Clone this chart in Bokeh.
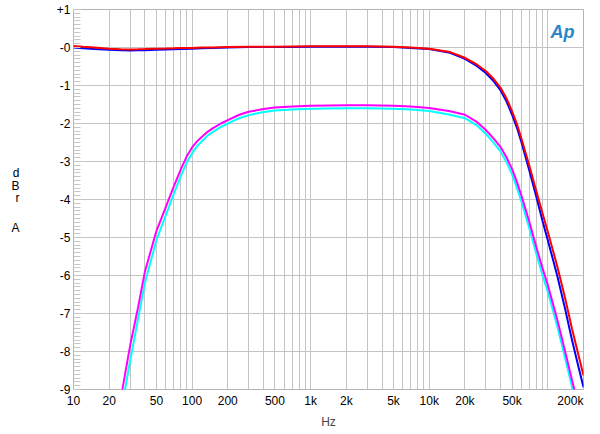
from bokeh.plotting import figure
from bokeh.models import Range1d, FixedTicker, Label, LinearAxis
from bokeh.embed import file_html
from bokeh.resources import INLINE

# ---- data ----
freq_a = [10, 12, 15, 20, 25, 30, 35, 40, 50, 60, 70, 80, 100, 120, 150, 200, 300, 500, 700, 1000,
          2000, 3000, 5000, 7000, 10000, 15000, 20000, 25000, 30000, 35000, 40000, 45000, 50000,
          55000, 60000, 70000, 80000, 90000, 100000, 120000, 140000, 160000, 180000, 200000]
red = [0.04, 0.02, 0.0, -0.03, -0.045, -0.05, -0.045, -0.04, -0.03, -0.025, -0.02, -0.015, -0.01,
       0.0, 0.0, 0.01, 0.02, 0.02, 0.025, 0.03, 0.03, 0.03, 0.02, 0.0, -0.03, -0.12, -0.27, -0.44,
       -0.62, -0.83, -1.06, -1.35, -1.68, -2.02, -2.4, -3.12, -3.78, -4.35, -4.85, -5.75, -6.6,
       -7.4, -8.05, -8.63]
blue = [0.0, -0.02, -0.04, -0.06, -0.075, -0.08, -0.075, -0.07, -0.06, -0.05, -0.045, -0.04, -0.03,
        -0.02, -0.01, 0.0, 0.01, 0.01, 0.015, 0.02, 0.02, 0.02, 0.01, -0.01, -0.04, -0.14, -0.3,
        -0.48, -0.67, -0.89, -1.13, -1.43, -1.77, -2.12, -2.5, -3.25, -3.93, -4.55, -5.07, -6.0,
        -6.88, -7.7, -8.36, -8.94]

freq_b = [24, 26, 30, 35, 40, 50, 60, 70, 80, 90, 100, 110, 120, 135, 150, 175, 200, 250, 300, 400,
          500, 700, 1000, 2000, 3000, 5000, 7000, 10000, 15000, 20000, 25000, 30000, 35000, 40000,
          45000, 50000, 55000, 60000, 70000, 80000, 90000, 100000, 120000, 140000, 160000, 180000,
          200000]
magenta = [-9.7, -8.95, -7.85, -6.85, -5.9, -4.83, -4.2, -3.66, -3.22, -2.87, -2.63, -2.47, -2.36,
           -2.22, -2.12, -2.0, -1.91, -1.77, -1.69, -1.62, -1.58, -1.55, -1.53, -1.52, -1.52, -1.53,
           -1.55, -1.59, -1.68, -1.77, -1.95, -2.17, -2.4, -2.62, -2.9, -3.2, -3.55, -3.9, -4.6,
           -5.25, -5.8, -6.25, -7.15, -8.0, -8.75, -9.4, -10.0]
cyan = [-10.3, -9.35, -8.25, -7.15, -6.2, -5.07, -4.42, -3.86, -3.4, -3.03, -2.78, -2.6, -2.48,
        -2.32, -2.22, -2.09, -2.0, -1.86, -1.78, -1.7, -1.66, -1.63, -1.61, -1.6, -1.6, -1.61,
        -1.63, -1.67, -1.77, -1.86, -2.04, -2.27, -2.51, -2.74, -3.03, -3.34, -3.7, -4.06, -4.77,
        -5.43, -5.98, -6.43, -7.33, -8.18, -8.93, -9.58, -10.2]

x_ticks = [10, 20, 50, 100, 200, 500, 1000, 2000, 5000, 10000, 20000, 50000, 100000, 200000]
x_labels = ["10", "20", "50", "100", "200", "500", "1k", "2k", "5k", "10k", "20k", "50k", "", "200k"]
y_ticks = [1, 0, -1, -2, -3, -4, -5, -6, -7, -8, -9]
y_labels = ["+1", "-0", "-1", "-2", "-3", "-4", "-5", "-6", "-7", "-8", "-9"]
y_title = ["d", "B", "r", "A"]

FONT = "Liberation Sans"
GRID = "#c4c4c4"

p = figure(width=600, height=434, x_axis_type="log", output_backend="svg", toolbar_location=None,
           x_range=Range1d(10, 200000), y_range=Range1d(-9, 1),
           min_border_left=73, min_border_right=17, min_border_top=9, min_border_bottom=45)
p.background_fill_color = "white"
p.border_fill_color = "white"
p.outline_line_color = "#b4b4b4"

# grid on every 1..9 multiple
minor_x = [m * 10 ** e for e in range(1, 6) for m in range(1, 10) if m * 10 ** e <= 200000]
p.xgrid.ticker = FixedTicker(ticks=x_ticks, minor_ticks=minor_x)
p.xgrid.grid_line_color = GRID
p.xgrid.minor_grid_line_color = GRID
p.ygrid.grid_line_color = GRID
p.ygrid.minor_grid_line_color = None

# x labels: the last one (at the right edge) is pulled in, as in the original
label_pos = x_ticks[:-1] + [155000]
p.xaxis.ticker = FixedTicker(ticks=label_pos, minor_ticks=[])
p.xaxis.major_label_overrides = {t: l for t, l in zip(label_pos, x_labels)}
p.yaxis.ticker = FixedTicker(ticks=y_ticks, minor_ticks=[i / 10 for i in range(-90, 11)])
p.yaxis.major_label_overrides = {t: l for t, l in zip(y_ticks, y_labels)}

for ax in (p.xaxis, p.yaxis):
    ax.axis_line_color = None
    ax.major_tick_line_color = None
    ax.major_tick_out = 0
    ax.major_tick_in = 0
    ax.major_label_text_font = FONT
    ax.major_label_text_font_size = "12px"
    ax.major_label_text_color = "black"
p.xaxis.minor_tick_line_color = None
p.xaxis.minor_tick_out = 0
p.xaxis.minor_tick_in = 0
p.xaxis.major_label_standoff = 4
p.xaxis.axis_label = "Hz"
p.xaxis.axis_label_text_font = FONT
p.xaxis.axis_label_text_font_size = "12px"
p.xaxis.axis_label_text_font_style = "normal"
p.xaxis.axis_label_standoff = 4
p.yaxis.major_label_standoff = 3
p.yaxis.minor_tick_in = 7
p.yaxis.minor_tick_out = 0
p.yaxis.minor_tick_line_color = "#c8c8c8"

# stacked y title "d B r  A" as an extra left axis
title_pos = [-3.29, -3.64, -3.97, -4.75]
title_axis = LinearAxis(ticker=FixedTicker(ticks=title_pos, minor_ticks=[]),
                        major_label_overrides={t: l for t, l in zip(title_pos, y_title)},
                        axis_line_color=None, major_tick_line_color=None, minor_tick_line_color=None,
                        major_tick_out=0, major_tick_in=0, minor_tick_out=0, minor_tick_in=0,
                        major_label_standoff=34, major_label_text_font=FONT,
                        major_label_text_font_size="12px", major_label_text_color="black")
p.add_layout(title_axis, "left")

p.line(freq_b, cyan, line_color="#00ffff", line_width=2)
p.line(freq_b, magenta, line_color="#ff00ff", line_width=2)
p.line(freq_a, blue, line_color="#0000ff", line_width=2)
p.line(freq_a, red, line_color="#ff0000", line_width=2)

# AP logo
p.add_layout(Label(x=489, y=389 - 31, x_units="screen", y_units="screen", text="Ap",
                   text_font=FONT, text_font_size="18px", text_font_style="bold italic",
                   text_color="#2a86c8", text_align="center", text_baseline="alphabetic"))

open("out.html", "w").write(file_html(p, INLINE))
